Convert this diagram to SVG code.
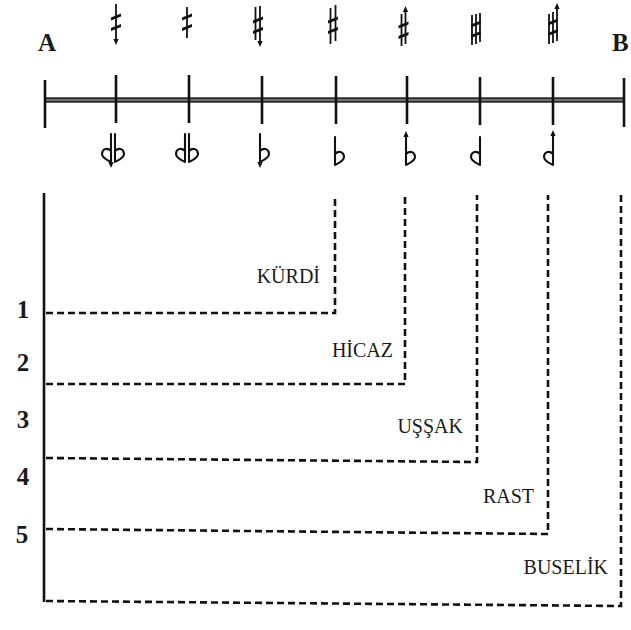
<svg xmlns="http://www.w3.org/2000/svg" xmlns:xlink="http://www.w3.org/1999/xlink" width="631" height="630" viewBox="0 0 631 630">
  <style>
    .lbl { font-family: "Liberation Serif", "DejaVu Serif", serif; font-size: 20px; fill: #1a1a1a; }
    .num { font-family: "Liberation Serif", "DejaVu Serif", serif; font-size: 25px; font-weight: bold; fill: #1a1a1a; }
    .end { font-family: "Liberation Serif", "DejaVu Serif", serif; font-size: 25px; font-weight: bold; fill: #1a1a1a; }
    .tick { stroke: #111; stroke-width: 2.6; fill: none; }
    .stem { stroke: #111; stroke-width: 1.8; fill: none; }
    .acc { stroke: #111; stroke-width: 2.1; fill: none; stroke-linecap: round; }
    .bar { fill: #111; }
    .dash { stroke: #111; stroke-width: 2.6; fill: none; stroke-dasharray: 7 4; }
    .solid { stroke: #111; stroke-width: 2.6; fill: none; }
  </style>
  <defs>
    <!-- two slanted sharp bars, centred on the origin -->
    <path id="bars" class="bar" d="M-5,-4.5 L5,-8.5 L5,-5.5 L-5,-1.5 Z M-5,6 L5,2 L5,5 L-5,9 Z"/>
    <!-- arrowhead pointing down, tip at the origin -->
    <path id="arrDown" class="bar" d="M0,0 L-2.6,-6 L2.6,-6 Z"/>
    <path id="arrUp" class="bar" d="M0,0 L-2.6,6 L2.6,6 Z"/>
    <!-- flat: stem bottom at the origin, bowl to the right -->
    <path id="flat" class="acc" d="M0,-28 V0 M0,-11 C4,-15 9,-13 9,-8 C9,-4 4,-2 0,0"/>
    <!-- reversed flat: bowl to the left -->
    <path id="rflat" class="acc" d="M0,-28 V0 M0,-11 C-4,-15 -9,-13 -9,-8 C-9,-4 -4,-2 0,0"/>
  </defs>

  <!-- scale line A–B -->
  <g id="scale">
    <line x1="45" y1="100" x2="624" y2="100" stroke="#2a2a2a" stroke-width="5.5"/>
    <line x1="45" y1="100" x2="624" y2="100" stroke="#8a8a8a" stroke-width="1.6"/>
    <line class="tick" x1="45" y1="80" x2="45" y2="128"/>
    <line class="tick" x1="116" y1="75" x2="116" y2="123"/>
    <line class="tick" x1="189" y1="75" x2="189" y2="123"/>
    <line class="tick" x1="262" y1="76" x2="262" y2="124"/>
    <line class="tick" x1="336" y1="76" x2="336" y2="124"/>
    <line class="tick" x1="407" y1="76" x2="407" y2="124"/>
    <line class="tick" x1="480" y1="77" x2="480" y2="125"/>
    <line class="tick" x1="553" y1="77" x2="553" y2="125"/>
    <line class="tick" x1="624" y1="78" x2="624" y2="127"/>
    <text class="end" x="38" y="51">A</text>
    <text class="end" x="612" y="51">B</text>
  </g>

  <!-- sharps above the ticks -->
  <g id="sharps">
    <g id="s1">
      <line class="stem" x1="116" y1="4" x2="116" y2="40"/>
      <use xlink:href="#bars" x="116" y="22"/>
      <use xlink:href="#arrDown" x="116" y="45"/>
    </g>
    <g id="s2">
      <line class="stem" x1="187" y1="7" x2="187" y2="38"/>
      <use xlink:href="#bars" x="187" y="22"/>
    </g>
    <g id="s3">
      <line class="stem" x1="255.5" y1="7" x2="255.5" y2="40"/>
      <line class="stem" x1="260" y1="6" x2="260" y2="42"/>
      <use xlink:href="#bars" x="258" y="25"/>
      <use xlink:href="#arrDown" x="260" y="47"/>
    </g>
    <g id="s4">
      <line class="stem" x1="330.5" y1="8" x2="330.5" y2="44"/>
      <line class="stem" x1="335.5" y1="5" x2="335.5" y2="41"/>
      <use xlink:href="#bars" x="333" y="25"/>
    </g>
    <g id="s5">
      <line class="stem" x1="401.5" y1="14" x2="401.5" y2="46"/>
      <line class="stem" x1="405.5" y1="10" x2="405.5" y2="44"/>
      <use xlink:href="#bars" x="403.5" y="30"/>
      <use xlink:href="#arrUp" x="405.5" y="6"/>
    </g>
    <g id="s6">
      <line class="stem" x1="472" y1="15" x2="472" y2="45"/>
      <line class="stem" x1="476" y1="14" x2="476" y2="44"/>
      <line class="stem" x1="480" y1="13" x2="480" y2="42"/>
      <use xlink:href="#bars" x="476" y="29"/>
    </g>
    <g id="s7">
      <line class="stem" x1="549" y1="14" x2="549" y2="44"/>
      <line class="stem" x1="553" y1="12" x2="553" y2="43"/>
      <line class="stem" x1="557" y1="9" x2="557" y2="41"/>
      <use xlink:href="#bars" x="553" y="27"/>
      <use xlink:href="#arrUp" x="557" y="3"/>
    </g>
  </g>

  <!-- flats below the ticks -->
  <g id="flats">
    <g id="f1">
      <use xlink:href="#rflat" x="111" y="162"/>
      <use xlink:href="#flat" x="115" y="162"/>
      <line class="stem" x1="111" y1="160" x2="111" y2="164"/>
      <use xlink:href="#arrDown" x="111" y="168"/>
    </g>
    <g id="f2">
      <use xlink:href="#rflat" x="185" y="162"/>
      <use xlink:href="#flat" x="189" y="162"/>
    </g>
    <g id="f3">
      <use xlink:href="#flat" x="260" y="162"/>
      <line class="stem" x1="260" y1="160" x2="260" y2="164"/>
      <use xlink:href="#arrDown" x="260" y="168"/>
    </g>
    <g id="f4">
      <use xlink:href="#flat" x="335" y="165"/>
    </g>
    <g id="f5">
      <use xlink:href="#flat" x="406" y="165"/>
      <line class="stem" x1="406" y1="135" x2="406" y2="139"/>
      <use xlink:href="#arrUp" x="406" y="131"/>
    </g>
    <g id="f6">
      <use xlink:href="#rflat" x="480" y="165"/>
    </g>
    <g id="f7">
      <use xlink:href="#rflat" x="553" y="165"/>
      <line class="stem" x1="553" y1="134" x2="553" y2="139"/>
      <use xlink:href="#arrUp" x="553" y="130"/>
    </g>
  </g>

  <!-- interval brackets -->
  <g id="connectors">
    <line class="solid" x1="44" y1="193" x2="44" y2="602"/>
    <polyline class="dash" points="46,313 335,313 335,195"/>
    <polyline class="dash" points="46,384 405,384 405,195"/>
    <polyline class="dash" points="46,458 477,462 477,195"/>
    <polyline class="dash" points="46,529 548,534 548,195"/>
    <polyline class="dash" points="46,601 621,606 621,195"/>
  </g>

  <g id="kurdi"><text class="lbl" x="320" y="283" text-anchor="end">KÜRDİ</text></g>
  <g id="hicaz"><text class="lbl" x="393" y="357" text-anchor="end">HİCAZ</text></g>
  <g id="ussak"><text class="lbl" x="463" y="433" text-anchor="end">UŞŞAK</text></g>
  <g id="rast"><text class="lbl" x="534" y="503" text-anchor="end">RAST</text></g>
  <g id="buselik"><text class="lbl" x="608" y="574" text-anchor="end">BUSELİK</text></g>

  <g id="numbers">
    <text class="num" x="23" y="318" text-anchor="middle">1</text>
    <text class="num" x="23" y="371" text-anchor="middle">2</text>
    <text class="num" x="23" y="428" text-anchor="middle">3</text>
    <text class="num" x="23" y="485" text-anchor="middle">4</text>
    <text class="num" x="22" y="543" text-anchor="middle">5</text>
  </g>
</svg>
